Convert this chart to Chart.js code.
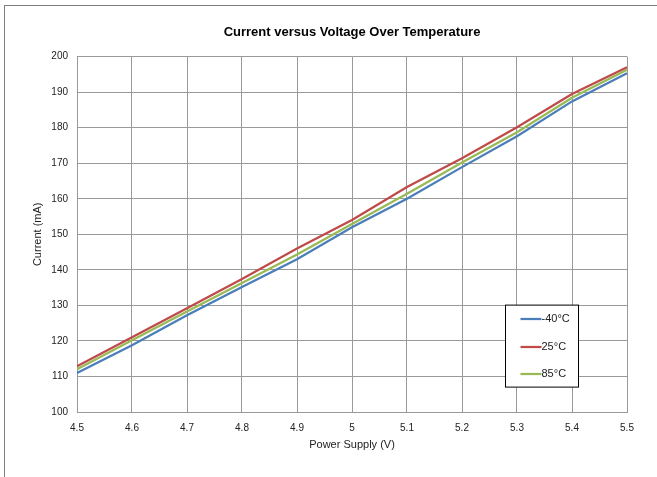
<!DOCTYPE html>
<html>
<head>
<meta charset="utf-8">
<script src="https://cdn.jsdelivr.net/npm/chart.js@4"></script>
<style>
  html, body { margin: 0; padding: 0; background: #fff; }
  #wrap { width: 657px; height: 477px; }
</style>
</head>
<body>
<div id="wrap"><canvas id="ivChart"></canvas></div>
<script>
/* ===== data ===== */
const voltages = [4.5, 4.6, 4.7, 4.8, 4.9, 5.0, 5.1, 5.2, 5.3, 5.4, 5.5];
const currentMinus40 = [111.0, 118.8, 127.2, 135.2, 143.0, 152.0, 160.0, 168.9, 177.6, 187.4, 195.3];
const current25 = [112.9, 121.0, 129.2, 137.4, 146.0, 154.0, 163.3, 171.4, 180.1, 189.5, 197.0];
const current85 = [112.0, 120.2, 128.3, 136.3, 144.3, 152.9, 161.4, 170.2, 178.7, 188.4, 196.3];
const seriesLabels = ['-40°C', '25°C', '85°C'];
const seriesColors = ['#4a7ebb', '#be4b48', '#98b954'];

const FONT = 'Arial, "Liberation Sans", sans-serif';

function toPoints(ys) {
  return voltages.map((v, i) => ({ x: v, y: ys[i] }));
}

/* outer frame */
const framePlugin = {
  id: 'frame',
  beforeDraw(chart) {
    const ctx = chart.ctx;
    ctx.save();
    ctx.strokeStyle = '#7f7f7f';
    ctx.lineWidth = 1;
    ctx.strokeRect(4.5, 5.5, chart.width + 10, chart.height + 10);
    ctx.restore();
  }
};

/* legend box inside the plot */
const boxLegend = {
  id: 'boxLegend',
  afterDraw(chart) {
    const ctx = chart.ctx;
    const area = chart.chartArea;
    const left = area.right - 121.5;
    const top = area.top + 248.5;
    ctx.save();
    ctx.fillStyle = '#fff';
    ctx.fillRect(left, top, 73, 82);
    ctx.strokeStyle = '#000';
    ctx.lineWidth = 1;
    ctx.strokeRect(left, top, 73, 82);
    ctx.font = '11px ' + FONT;
    ctx.textBaseline = 'middle';
    ctx.fillStyle = '#222';
    chart.data.datasets.forEach((ds, i) => {
      const y = Math.round(top + 14 + i * 27.5);
      ctx.strokeStyle = ds.borderColor;
      ctx.lineWidth = 2.25;
      ctx.beginPath();
      ctx.moveTo(left + 15, y);
      ctx.lineTo(left + 36, y);
      ctx.stroke();
      ctx.fillText(ds.label, left + 36, y);
    });
    ctx.restore();
  }
};

const chart = new Chart(document.getElementById('ivChart'), {
  type: 'line',
  data: {
    datasets: [
      { label: seriesLabels[0], data: toPoints(currentMinus40), borderColor: seriesColors[0] },
      { label: seriesLabels[1], data: toPoints(current25), borderColor: seriesColors[1] },
      { label: seriesLabels[2], data: toPoints(current85), borderColor: seriesColors[2] }
    ].map(ds => Object.assign(ds, { borderWidth: 2.25, pointRadius: 0, tension: 0, fill: false }))
  },
  options: {
    animation: false,
    responsive: true,
    maintainAspectRatio: false,
    layout: { padding: { left: 20, right: 30, top: 10, bottom: 25 } },
    plugins: {
      legend: { display: false },
      tooltip: { enabled: false },
      title: {
        display: true,
        fullSize: false,
        text: 'Current versus Voltage Over Temperature',
        color: '#000',
        font: { family: FONT, size: 13, weight: 'bold' },
        padding: { top: 15, bottom: 16 }
      }
    },
    scales: {
      x: {
        type: 'linear',
        min: 4.5,
        max: 5.5,
        ticks: {
          stepSize: 0.1,
          color: '#222',
          font: { family: FONT, size: 10 },
          padding: 10,
          maxRotation: 0,
          callback: v => String(Math.round(v * 10) / 10)
        },
        grid: { color: '#999', lineWidth: 1, drawTicks: false },
        border: { color: '#999' },
        title: {
          display: true,
          text: 'Power Supply (V)',
          color: '#222',
          font: { family: FONT, size: 11 },
          padding: { top: 4, bottom: 0 }
        },
        afterFit: s => { s.height = 40; }
      },
      y: {
        min: 100,
        max: 200,
        ticks: {
          stepSize: 10,
          color: '#222',
          font: { family: FONT, size: 10 },
          padding: 9
        },
        grid: { color: '#999', lineWidth: 1, drawTicks: false },
        border: { color: '#999' },
        title: {
          display: true,
          text: 'Current (mA)',
          color: '#222',
          font: { family: FONT, size: 11 },
          padding: { top: 11, bottom: 0 }
        },
        afterFit: s => { s.width = 57; }
      }
    }
  },
  plugins: [framePlugin, boxLegend]
});
</script>
</body>
</html>
